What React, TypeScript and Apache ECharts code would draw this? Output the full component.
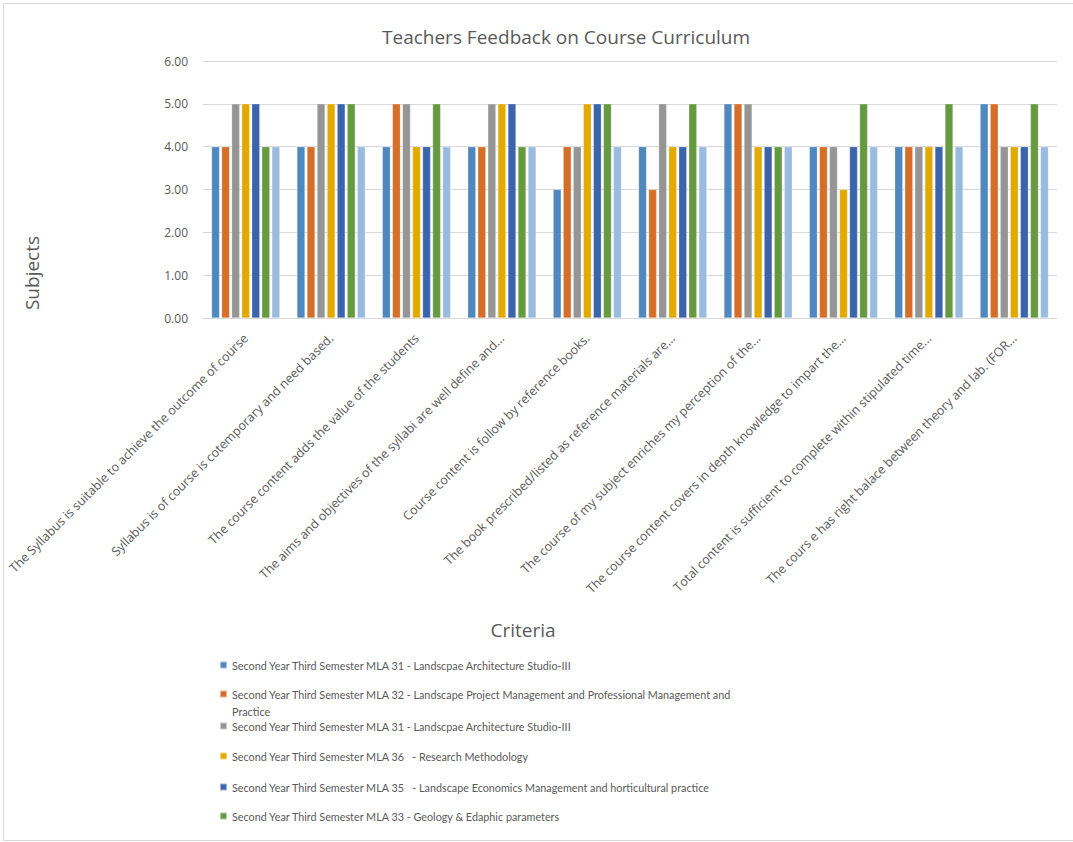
import React, { useEffect, useRef } from "react";
import * as echarts from "echarts";

const categories = [
  "The Syllabus is suitable to achieve the outcome of course",
  "Syllabus is of course is cotemporary and need based.",
  "The course content adds the value of the students",
  "The aims and objectives of the syllabi are well define and...",
  "Course content is follow by reference books.",
  "The book prescribed/listed as reference materials are...",
  "The course of my subject enriches my perception of the...",
  "The course content covers in depth knowledge to impart the...",
  "Total content is sufficient to complete within stipulated time...",
  "The cours e has right balace between theory and lab. (FOR...",
];

const seriesNames = [
  "Second Year Third Semester MLA 31 - Landscpae Architecture Studio-III",
  "Second Year Third Semester MLA 32 - Landscape Project Management and Professional Management and Practice",
  "Second Year Third Semester MLA 31 - Landscpae Architecture Studio-III",
  "Second Year Third Semester MLA 36   - Research Methodology",
  "Second Year Third Semester MLA 35   - Landscape Economics Management and horticultural practice",
  "Second Year Third Semester MLA 33 - Geology & Edaphic parameters",
  "Series 7",
];

const seriesColors = ["#4F88BE", "#D46F2A", "#959595", "#E2AA00", "#3C64AD", "#659A41", "#9ABBE0"];

const s1 = [4, 4, 4, 4, 3, 4, 5, 4, 4, 5];
const s2 = [4, 4, 5, 4, 4, 3, 5, 4, 4, 5];
const s3 = [5, 5, 5, 5, 4, 5, 5, 4, 4, 4];
const s4 = [5, 5, 4, 5, 5, 4, 4, 3, 4, 4];
const s5 = [5, 5, 4, 5, 5, 4, 4, 4, 4, 4];
const s6 = [4, 5, 5, 4, 5, 5, 4, 5, 5, 5];
const s7 = [4, 4, 4, 4, 4, 4, 4, 4, 4, 4];
const seriesValues = [s1, s2, s3, s4, s5, s6, s7];

const yTicks = [0, 1, 2, 3, 4, 5, 6];

// vertical centre of each legend row (first line)
const legendCentres = [665, 694, 726, 756, 787, 816];

export default function App() {
  const ref = useRef<HTMLDivElement>(null);
  useEffect(() => {
    if (!ref.current) return;
    const chart = echarts.init(ref.current, null, { renderer: "svg" });
    const legendFont = "Lato, 'Open Sans', sans-serif";
    const legends = seriesNames.slice(0, 6).map((name, i) => {
      const wrapped = i === 1;
      return {
        show: true,
        left: 219,
        top: wrapped ? legendCentres[i] - 25.5 : legendCentres[i] - 8.5,
        padding: 0,
        orient: "vertical",
        itemWidth: 7,
        itemHeight: 7,
        itemGap: 0,
        icon: "rect",
        selectedMode: false,
        formatter: wrapped
          ? (n: string) => "\n" + n.replace(" Practice", "\nPractice")
          : (n: string) => n,
        textStyle: {
          color: "#595959",
          fontSize: 10.8,
          fontFamily: legendFont,
          lineHeight: 17,
        },
        data: [{ name, itemStyle: { color: seriesColors[i] } }],
      };
    });
    chart.setOption({
      animation: false,
      backgroundColor: "#ffffff",
      title: {
        text: "Teachers Feedback on Course Curriculum",
        left: 382,
        top: 27,
        padding: 0,
        textStyle: { color: "#595959", fontSize: 19, fontWeight: "normal", fontFamily: "'Open Sans', sans-serif" },
      },
      legend: legends,
      grid: { left: 203, right: 16, top: 61, bottom: 524, containLabel: false },
      xAxis: {
        type: "category",
        data: categories,
        axisLine: { lineStyle: { color: "#d9d9d9", width: 1 } },
        axisTick: { show: false },
        axisLabel: {
          interval: 0,
          rotate: 45,
          margin: 18,
          color: "#595959",
          fontSize: 12.5,
          fontFamily: "'Open Sans', sans-serif",
        },
      },
      yAxis: {
        type: "value",
        min: 0,
        max: 6,
        interval: 1,
        axisLine: { show: false },
        axisTick: { show: false },
        splitLine: { lineStyle: { color: "#d9d9d9", width: 1 } },
        axisLabel: {
          color: "#595959",
          fontSize: 12,
          margin: 15,
          fontFamily: "'Open Sans', sans-serif",
          formatter: (v: number) => (yTicks.includes(v) ? v.toFixed(2) : ""),
        },
      },
      graphic: [
        {
          type: "rect",
          shape: { x: 3.5, y: 3.5, width: 1080, height: 837 },
          style: { fill: "none", stroke: "#d9d9d9", lineWidth: 1 },
          silent: true,
          z: -1,
        },
        {
          type: "text",
          x: 523,
          y: 630,
          style: {
            text: "Criteria",
            fill: "#595959",
            fontSize: 19,
            fontFamily: "'Open Sans', sans-serif",
            align: "center",
            verticalAlign: "middle",
          },
          silent: true,
        },
        {
          type: "text",
          x: 32,
          y: 273,
          rotation: Math.PI / 2,
          style: {
            text: "Subjects",
            fill: "#595959",
            fontSize: 19,
            fontFamily: "'Open Sans', sans-serif",
            align: "center",
            verticalAlign: "middle",
          },
          silent: true,
        },
      ],
      series: seriesValues.map((vals, i) => ({
        type: "bar",
        name: seriesNames[i],
        data: vals,
        barGap: "25%",
        barCategoryGap: "20%",
        itemStyle: { color: seriesColors[i], borderColor: "rgba(255,255,255,0.5)", borderWidth: 0.5 },
      })),
    });
    return () => chart.dispose();
  }, []);
  return (
    <div
      ref={ref}
      style={{ position: "absolute", left: 0, top: 0, width: 1073, height: 842 }}
    />
  );
}
